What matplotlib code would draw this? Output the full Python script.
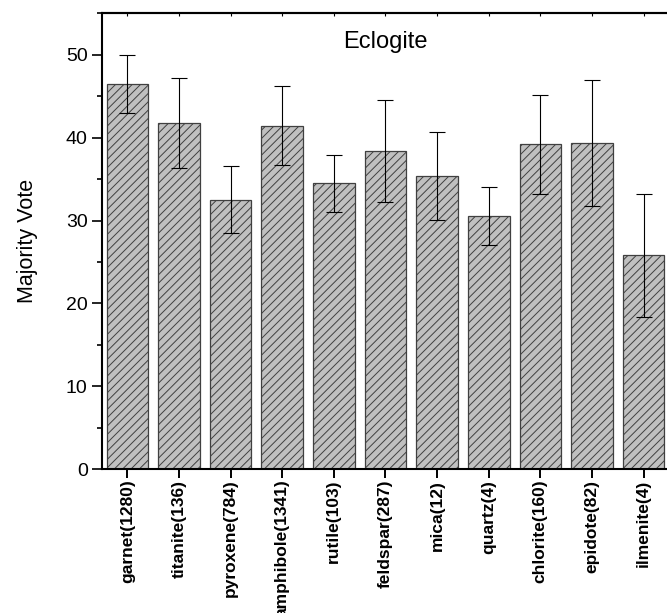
import numpy as np
import matplotlib
matplotlib.use("Agg")
import matplotlib.pyplot as plt
from matplotlib.ticker import MultipleLocator

# data
minerals = ["garnet(1280)", "titanite(136)", "pyroxene(784)", "amphibole(1341)",
            "rutile(103)", "feldspar(287)", "mica(12)", "quartz(4)",
            "chlorite(160)", "epidote(82)", "ilmenite(4)"]
votes = [46.5, 41.8, 32.5, 41.45, 34.5, 38.4, 35.4, 30.55, 39.2, 39.4, 25.8]
errors = [3.5, 5.4, 4.05, 4.75, 3.45, 6.2, 5.3, 3.5, 5.95, 7.6, 7.4]

plt.rcParams['font.family'] = ['Liberation Sans', 'DejaVu Sans']
plt.rcParams['hatch.linewidth'] = 0.7
plt.rcParams['hatch.color'] = 'black'

fig = plt.figure(figsize=(6.67, 6.13), dpi=100)
ax = fig.add_axes([0.1522, 0.2344, 0.8514, 0.7439])

x = np.arange(len(minerals))
ax.bar(x, votes, width=0.806, color='#c0c0c0', edgecolor='#404040',
       linewidth=0.9, hatch='////', zorder=2)
ax.errorbar(x, votes, yerr=errors, fmt='none', ecolor='black',
            elinewidth=0.8, capsize=5.5, capthick=0.8, zorder=3)

ax.set_xlim(-0.5, 10.5)
ax.set_ylim(0, 55)
ax.set_xticks(x)
ax.set_xticklabels(minerals, rotation=90, fontweight='bold', fontsize=12.5)
ax.yaxis.set_major_locator(MultipleLocator(10))
ax.yaxis.set_minor_locator(MultipleLocator(5))

ax.tick_params(axis='x', which='major', direction='out', length=6.5, width=1.4,
               pad=1, top=False)
ax.tick_params(axis='y', which='major', direction='out', length=7, width=1.2,
               labelsize=14, pad=3)
ax.tick_params(axis='y', which='minor', direction='out', length=3.6, width=1.2)

# small inward ticks on the top frame
top = ax.secondary_xaxis('top')
top.set_xticks(x)
top.tick_params(direction='in', length=2.5, width=0.8, labeltop=False)
top.spines['top'].set_linewidth(1.5)

for s in ['left', 'bottom', 'top']:
    ax.spines[s].set_linewidth(1.5)
ax.spines['right'].set_visible(False)

ax.set_ylabel("Majority Vote", fontsize=15.5)
ax.yaxis.set_label_coords(-0.112, 0.5)

ax.text(0.5, 0.937, "Eclogite", transform=ax.transAxes, ha='center',
        va='center', fontsize=17)

fig.savefig("out.png", dpi=100)
